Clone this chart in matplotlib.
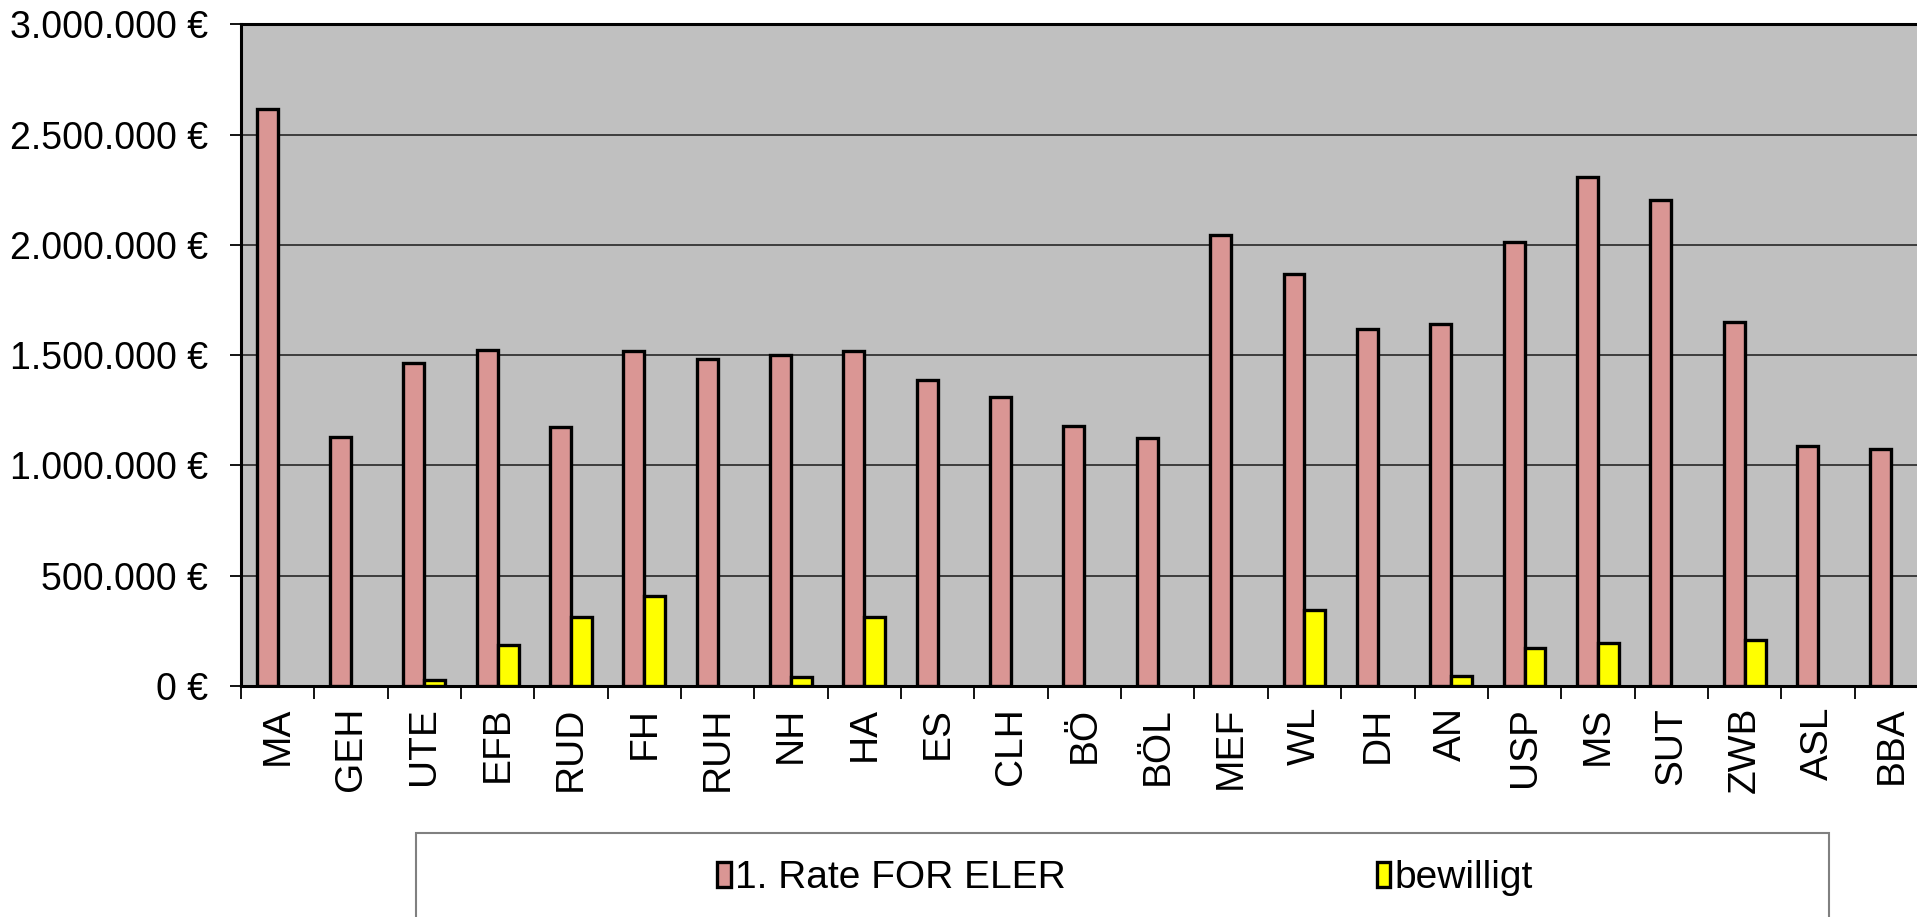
import numpy as np
import matplotlib.pyplot as plt
from matplotlib.patches import Rectangle
from matplotlib.ticker import FuncFormatter, FixedLocator

plt.rcParams['font.family'] = ['Liberation Sans', 'DejaVu Sans']

# Daten
kreise = ['MA', 'GEH', 'UTE', 'EFB', 'RUD', 'FH', 'RUH', 'NH', 'HA', 'ES', 'CLH', 'BÖ',
          'BÖL', 'MEF', 'WL', 'DH', 'AN', 'USP', 'MS', 'SUT', 'ZWB', 'ASL', 'BBA']
rate_eler = [2618000, 1127000, 1464000, 1524000, 1174000, 1520000, 1484000, 1502000,
             1520000, 1388000, 1311000, 1180000, 1124000, 2047000, 1869000, 1621000,
             1640000, 2014000, 2310000, 2206000, 1650000, 1087000, 1073000]
bewilligt = [0, 0, 29000, 185000, 314000, 406000, 0, 41000, 314000, 0, 0, 0,
             0, 0, 344000, 0, 44000, 172000, 196000, 0, 207000, 0, 0]

fig = plt.figure(figsize=(19.17, 9.17), dpi=100)
ax = fig.add_axes([0.1257, 0.2519, 0.88, 0.7214])
ax.set_facecolor('#C0C0C0')

x = np.arange(len(kreise))
w = 0.2857
b1 = ax.bar(x - w / 2, rate_eler, w, color='#DA9694', edgecolor='black', linewidth=2.4,
            label='1. Rate FOR ELER', zorder=3)
bew = np.array(bewilligt, dtype=float)
m = bew > 0
ax.bar(x[m] + w / 2, bew[m], w, color='#FFFF00', edgecolor='black', linewidth=2.4, zorder=3)
b2 = ax.bar([np.nan], [np.nan], w, color='#FFFF00', edgecolor='black', linewidth=2.4,
            label='bewilligt')

ax.set_xlim(-0.5, len(kreise) - 0.5)
ax.set_ylim(0, 3000000)
ax.set_yticks(np.arange(0, 3000001, 500000))
ax.yaxis.set_major_formatter(FuncFormatter(lambda v, p: f'{int(v):,}'.replace(',', '.') + ' €'))
ax.grid(axis='y', color='#333333', linewidth=1.3, zorder=1)
ax.set_axisbelow(True)

ax.set_xticks(x)
ax.set_xticklabels(kreise, rotation=90)
ax.xaxis.set_minor_locator(FixedLocator(np.arange(-0.5, len(kreise), 1.0)))
ax.tick_params(axis='x', which='major', length=0, pad=15, labelsize=28)
ax.tick_params(axis='x', which='minor', length=9, width=1.3, direction='out')
ax.tick_params(axis='y', length=8, width=1.3, pad=16, labelsize=27)

for s in ['left', 'bottom', 'top']:
    ax.spines[s].set_linewidth(2.2)
    ax.spines[s].set_color('black')
ax.spines['right'].set_visible(False)

# Legendenrahmen
fig.patches.append(Rectangle((416 / 1917, -0.01), (1829 - 416) / 1917, 0.01 + 84 / 917,
                             transform=fig.transFigure, facecolor='white',
                             edgecolor='#808080', linewidth=1.5))
fig.legend(handles=[b1, b2], loc='center', bbox_to_anchor=(1125 / 1917, 1 - 878 / 917),
           ncol=2, frameon=False, fontsize=28, handlelength=0.35, handleheight=0.6,
           handletextpad=0.1, columnspacing=8.0)

fig.savefig('out.png', dpi=100)
